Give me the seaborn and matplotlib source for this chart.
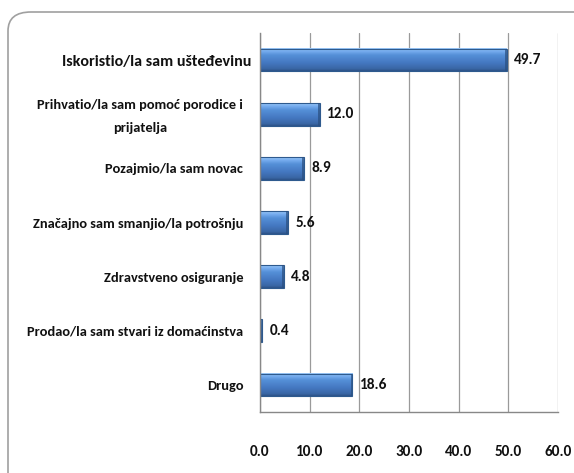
import matplotlib
matplotlib.use("Agg")
import matplotlib.pyplot as plt
from matplotlib import font_manager
from matplotlib.patches import FancyBboxPatch, Rectangle
from matplotlib.colors import LinearSegmentedColormap
from matplotlib.transforms import ScaledTranslation
import seaborn as sns
import pandas as pd
import numpy as np

categories = [
    "Iskoristio/la sam ušteđevinu",
    "Prihvatio/la sam pomoć porodice i\nprijatelja",
    "Pozajmio/la sam novac",
    "Značajno sam smanjio/la potrošnju",
    "Zdravstveno osiguranje",
    "Prodao/la sam stvari iz domaćinstva",
    "Drugo",
]
values = [49.7, 12.0, 8.9, 5.6, 4.8, 0.4, 18.6]
xticks = [0, 10, 20, 30, 40, 50, 60]
xtick_labels = ["0.0", "10.0", "20.0", "30.0", "40.0", "50.0", "60.0"]

sns.set_theme(style="white")
names = {f.name for f in font_manager.fontManager.ttflist}
fam = "DejaVu Sans"
for cand in ["Carlito", "Liberation Sans Narrow", "Roboto Condensed", "Open Sans Condensed"]:
    if cand in names:
        fam = cand
        break
plt.rcParams["font.family"] = [fam, "DejaVu Sans"]
plt.rcParams["font.stretch"] = "condensed"

df = pd.DataFrame({"cat": categories, "val": values})

fig = plt.figure(figsize=(5.74, 4.73), dpi=100)
ax = fig.add_axes([260/574, 61/473, 298/574, 379/473])

sns.barplot(data=df, y="cat", x="val", orient="h", ax=ax, color="#4a7fc1",
            width=0.42, edgecolor="#2e5a8e", linewidth=0.8, saturation=1)

cmap = LinearSegmentedColormap.from_list(
    "bar", [(0.0, "#9cc8f6"), (0.12, "#78aef0"), (0.3, "#5590d8"),
            (0.65, "#4477c0"), (0.9, "#3a67a6"), (1.0, "#2c5288")])
grad = np.linspace(0, 1, 64).reshape(-1, 1)
for p in list(ax.patches):
    x0, y0, w, h = p.get_x(), p.get_y(), p.get_width(), p.get_height()
    ax.imshow(grad, cmap=cmap, aspect="auto", origin="upper",
              extent=(x0, x0 + w, y0 + h, y0), zorder=p.get_zorder() - 0.05,
              interpolation="bilinear")
    p.set_facecolor("none")
    p.set_zorder(p.get_zorder() + 0.1)
    bev = min(0.35, w * 0.3)
    ax.add_patch(Rectangle((x0 + w - bev, y0), bev, h, facecolor="#2a4f80",
                           edgecolor="none", alpha=0.7, zorder=p.get_zorder()))

for i, v in enumerate(values):
    ax.text(v + 1.5, i, f"{v:.1f}", va="center", ha="left",
            fontsize=11, fontweight="bold", color="#111111")

ax.set_xlim(0, 60)
ax.set_ylim(6.5, -0.5)
ax.set_xticks(xticks)
ax.set_xticklabels(xtick_labels, fontsize=11, fontweight="bold")
ax.set_xlabel("")
ax.set_ylabel("")
ax.set_yticks(range(len(categories)))
ax.set_yticklabels(categories, fontsize=10.4, fontweight="bold",
                   multialignment="center", linespacing=2.1)
ax.tick_params(axis="y", length=0, pad=12)
ax.tick_params(axis="x", length=0, pad=24)
ylabels = ax.get_yticklabels()
first = ylabels[0]
first.set_fontsize(11.5)
first.set_transform(first.get_transform() + ScaledTranslation(8/100, 0, fig.dpi_scale_trans))
second = ylabels[1]
second.set_transform(second.get_transform() + ScaledTranslation(0, 4/100, fig.dpi_scale_trans))

ax.xaxis.grid(True, color="#9a9a9a", linewidth=0.9)
ax.set_axisbelow(True)
for s in ["top", "right"]:
    ax.spines[s].set_visible(False)
for s in ["left", "bottom"]:
    ax.spines[s].set_color("#888888")
    ax.spines[s].set_linewidth(1.0)

ax.set_yticks(np.arange(-0.5, 7.0, 1.0), minor=True)
ax.tick_params(axis="y", which="minor", length=4, color="#888888", direction="out")
ax.set_xticks(xticks, minor=True)
ax.tick_params(axis="x", which="minor", length=4, color="#888888", direction="out")

for t in ax.get_yticklabels() + ax.get_xticklabels():
    t.set_color("#111111")

border = FancyBboxPatch((8/574, -20/473), 600/574, 481/473,
                        boxstyle="round,pad=0,rounding_size=0.04",
                        transform=fig.transFigure, facecolor="none",
                        edgecolor="#a0a0a0", linewidth=1.2, clip_on=False)
fig.patches.append(border)

fig.savefig("out.png", dpi=100)
